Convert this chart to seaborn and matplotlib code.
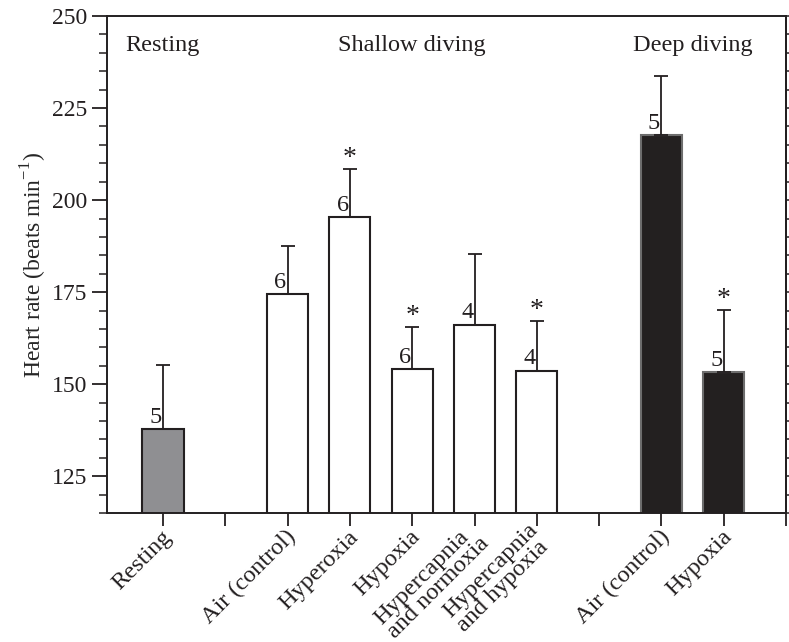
import numpy as np
import pandas as pd
import matplotlib
matplotlib.use("Agg")
import matplotlib.pyplot as plt
import matplotlib.transforms as mtransforms
import seaborn as sns
from matplotlib.ticker import MultipleLocator

# slot order on the x axis (gaps separate the three groups)
order = ["rest", "gap_a", "sh_air", "sh_hyperoxia", "sh_hypoxia",
         "sh_hyper_norm", "sh_hyper_hypo", "gap_b", "dp_air", "dp_hypoxia"]
tick_labels = ["Resting", "", "Air (control)", "Hyperoxia", "Hypoxia",
               "Hypercapnia\nand normoxia", "Hypercapnia\nand hypoxia", "",
               "Air (control)", "Hypoxia", ""]

conditions = ["rest", "sh_air", "sh_hyperoxia", "sh_hypoxia",
              "sh_hyper_norm", "sh_hyper_hypo", "dp_air", "dp_hypoxia"]
means = [137.8, 174.4, 195.5, 154.0, 166.2, 153.7, 217.7, 153.3]
sems = [17.5, 13.2, 12.9, 11.5, 19.2, 13.5, 16.1, 16.8]
n_animals = ["5", "6", "6", "6", "4", "4", "5", "5"]
significant = [False, False, True, True, False, True, False, True]

group_names = ["Resting", "Shallow diving", "Deep diving"]

INK = "#231f20"
colors = {"rest": "#8e8f93", "sh_air": "white", "sh_hyperoxia": "white",
          "sh_hypoxia": "white", "sh_hyper_norm": "white",
          "sh_hyper_hypo": "white", "dp_air": INK, "dp_hypoxia": INK}


def main():
    sns.set_style("ticks")
    plt.rcParams["font.family"] = ["Liberation Serif", "DejaVu Serif"]
    plt.rcParams["mathtext.fontset"] = "custom"
    plt.rcParams["mathtext.rm"] = "Liberation Serif"
    plt.rcParams["text.color"] = INK
    plt.rcParams["axes.edgecolor"] = INK
    plt.rcParams["xtick.color"] = INK
    plt.rcParams["ytick.color"] = INK

    df = pd.DataFrame({"condition": conditions, "rate": means})

    fig = plt.figure(figsize=(7.89, 6.42), dpi=100)
    ax = fig.add_axes([0.1356, 0.2009, 0.9962 - 0.1356, 0.975 - 0.2009])

    sns.barplot(data=df, x="condition", y="rate", order=order, hue="condition",
                palette=colors, width=0.66, edgecolor=INK, linewidth=1.5,
                errorbar=None, legend=False, ax=ax)

    # deep diving bars have a grey outline
    for patch in ax.patches:
        idx = int(round(patch.get_x() + patch.get_width() / 2))
        if order[idx].startswith("dp_"):
            patch.set_edgecolor("#6d6d6d")

    xpos = np.array([order.index(c) for c in conditions])
    ax.errorbar(xpos, means, yerr=[np.zeros(len(sems)), sems], fmt="none",
                ecolor=INK, elinewidth=1.3, capsize=4.8, capthick=1.3, zorder=1)

    for x, m, s, n, sig in zip(xpos, means, sems, n_animals, significant):
        ax.text(x - 0.02, m + 0.3, n, ha="right", va="bottom", fontsize=17.5)
        if sig:
            ax.text(x, m + s - 0.6, "*", ha="center", va="bottom", fontsize=20)

    ax.text(-0.6, 242.0, group_names[0], ha="left", va="center", fontsize=17.5)
    ax.text(4.0, 242.0, group_names[1], ha="center", va="center", fontsize=17.5)
    ax.text(8.5, 242.0, group_names[2], ha="center", va="center", fontsize=17.5)

    ax.set_xlim(-0.9, 10.0)
    ax.set_ylim(115, 250)
    ax.set_xticks(range(11))
    ax.set_xticklabels(tick_labels, rotation=45, ha="right", va="center",
                       rotation_mode="anchor", fontsize=17.5,
                       multialignment="left", linespacing=0.88)
    ax.tick_params(axis="x", length=9, width=1.3, direction="out", pad=6)
    # shift rotated labels slightly right, as in the original figure
    offset = mtransforms.ScaledTranslation(5 / 100, 0, fig.dpi_scale_trans)
    for lab in ax.get_xticklabels():
        lab.set_transform(lab.get_transform() + offset)

    ax.yaxis.set_major_locator(MultipleLocator(25))
    ax.yaxis.set_minor_locator(MultipleLocator(5))
    ax.tick_params(axis="y", which="major", length=11, width=1.3, labelsize=17)
    ax.tick_params(axis="y", which="minor", length=6, width=1.1)

    sec = ax.secondary_yaxis("right")
    sec.yaxis.set_major_locator(MultipleLocator(5))
    sec.tick_params(axis="y", which="major", length=4, width=1.1,
                    labelright=False)
    sec.spines["right"].set_linewidth(1.4)
    sec.spines["right"].set_color(INK)

    for side in ["left", "bottom", "top", "right"]:
        ax.spines[side].set_visible(True)
        ax.spines[side].set_linewidth(1.4)

    ax.set_xlabel("")
    ax.set_ylabel("Heart rate (beats min$^{-1}$)", fontsize=17, labelpad=2)

    fig.savefig("out.png", dpi=100)
    plt.close(fig)


if __name__ == "__main__":
    main()
